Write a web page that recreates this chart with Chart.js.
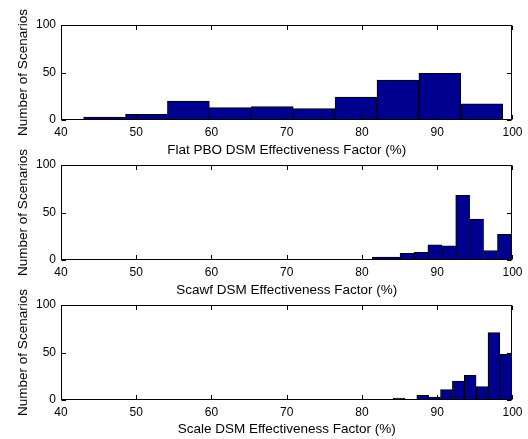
<!DOCTYPE html>
<html>
<head>
<meta charset="utf-8">
<title>DSM Effectiveness Factor histograms</title>
<script src="https://cdn.jsdelivr.net/npm/chart.js@4.4.0/dist/chart.umd.min.js"></script>
<style>
  html, body { margin: 0; padding: 0; background: #fff; overflow: hidden; }
  canvas { position: absolute; left: 0; }
</style>
</head>
<body>
<canvas id="flatChart" width="528" height="160" style="top:0px"></canvas>
<canvas id="scawfChart" width="528" height="160" style="top:140px"></canvas>
<canvas id="scaleChart" width="528" height="159" style="top:280px"></canvas>
<script>
// tick values shared by all three panels
const xTickValues = [40, 50, 60, 70, 80, 90, 100];
const yTickValues = [0, 50, 100];

// Flat PBO: bin centres (%) and number of scenarios
const flatCenters = [45.79, 51.36, 56.93, 62.50, 68.07, 73.64, 79.21, 84.78, 90.35, 95.92];
const flatCounts = [3, 6, 20, 13, 14, 12, 24, 42, 49, 17];

// Scawf
const scawfCenters = [82.28, 84.13, 85.98, 87.83, 89.68, 91.53, 93.38, 95.23, 97.08, 98.93];
const scawfCounts = [3, 3, 7, 8, 16, 15, 68, 43, 10, 27];

// Scale
const scaleCenters = [84.92, 86.50, 88.07, 89.65, 91.22, 92.80, 94.38, 95.96, 97.53, 99.11];
const scaleCounts = [2, 0, 5, 3, 11, 20, 26, 14, 71, 48];

const fontFamily = "'Liberation Sans', Arial, Helvetica, sans-serif";
Chart.defaults.color = '#000';

// draws the matlab style box and inward tick marks
const boxTicks = {
  id: 'boxTicks',
  afterDatasetsDraw(chart) {
    const { ctx, chartArea: a, scales: { x, y } } = chart;
    const len = 4.5;
    const left = Math.round(a.left) + 0.5, right = Math.round(a.right) - 0.5;
    const top = Math.round(a.top) + 0.5, bottom = Math.round(a.bottom) - 0.5;
    ctx.save();
    ctx.strokeStyle = '#000';
    ctx.lineWidth = 1;
    ctx.beginPath();
    x.ticks.forEach(t => {
      const px = Math.round(x.getPixelForValue(t.value)) + 0.5;
      ctx.moveTo(px, bottom); ctx.lineTo(px, bottom - len);
      ctx.moveTo(px, top); ctx.lineTo(px, top + len);
    });
    y.ticks.forEach(t => {
      const py = Math.round(y.getPixelForValue(t.value)) + 0.5;
      ctx.moveTo(left, py); ctx.lineTo(left + len, py);
      ctx.moveTo(right, py); ctx.lineTo(right - len, py);
    });
    ctx.stroke();
    ctx.strokeRect(left, top, right - left, bottom - top);
    ctx.restore();
  }
};

function makePanel(canvasId, centers, counts, xLabel) {
  const canvas = document.getElementById(canvasId);
  const xHeight = canvas.height - 120;
  return new Chart(canvas, {
    type: 'bar',
    data: {
      datasets: [{
        data: centers.map((c, i) => ({ x: c, y: counts[i] })),
        backgroundColor: 'rgb(0, 0, 143)',
        borderColor: '#000',
        borderWidth: 1,
        borderSkipped: false,
        barPercentage: 1,
        categoryPercentage: 1
      }]
    },
    options: {
      responsive: false,
      animation: false,
      layout: { padding: { top: 25, left: 0, right: 15, bottom: 0 } },
      plugins: { legend: { display: false }, tooltip: { enabled: false } },
      scales: {
        x: {
          type: 'linear',
          min: 40,
          max: 100,
          offset: false,
          grid: { display: false, drawTicks: false },
          border: { display: false },
          afterBuildTicks: s => { s.ticks = xTickValues.map(v => ({ value: v })); },
          afterFit: s => { s.height = xHeight; },
          ticks: { padding: 5.5, maxRotation: 0, autoSkip: false, font: { family: fontFamily, size: 12 } },
          title: {
            display: true,
            text: xLabel,
            padding: { top: 0, bottom: 2 },
            font: { family: fontFamily, size: 13.5 }
          }
        },
        y: {
          min: 0,
          max: 100,
          grid: { display: false, drawTicks: false },
          border: { display: false },
          afterBuildTicks: s => { s.ticks = yTickValues.map(v => ({ value: v })); },
          afterFit: s => { s.width = 61; },
          ticks: { padding: 5, font: { family: fontFamily, size: 12 } },
          title: {
            display: true,
            text: 'Number of Scenarios',
            padding: { top: 15, bottom: 0 },
            font: { family: fontFamily, size: 13.5 }
          }
        }
      }
    },
    plugins: [boxTicks]
  });
}

makePanel('flatChart', flatCenters, flatCounts, 'Flat PBO DSM Effectiveness Factor (%)');
makePanel('scawfChart', scawfCenters, scawfCounts, 'Scawf DSM Effectiveness Factor (%)');
makePanel('scaleChart', scaleCenters, scaleCounts, 'Scale DSM Effectiveness Factor (%)');
</script>
</body>
</html>
